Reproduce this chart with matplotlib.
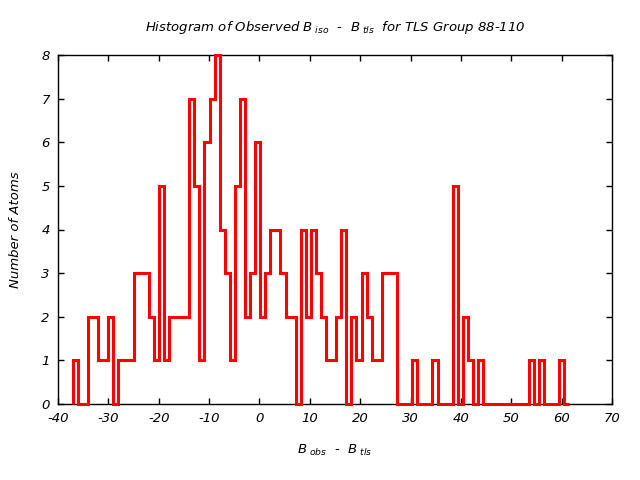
import numpy as np
import matplotlib
matplotlib.use("Agg")
import matplotlib.pyplot as plt

plt.rcParams['font.family'] = ['DejaVu Sans']
plt.rcParams['mathtext.fontset'] = 'dejavusans'
plt.rcParams['mathtext.default'] = 'it'
plt.rcParams['axes.unicode_minus'] = False

# Histogram data (bin start, bin width, counts per bin)
bin_start = -37.07
bin_width = 1.006
counts = [
    1, 0, 0, 2, 2, 1, 1, 2, 0, 1,      # -37 .. -28
    1, 1, 3, 3, 3, 2, 1, 5, 1, 2,      # -27 .. -18
    2, 2, 2, 7, 5, 1, 6, 7, 8, 4,      # -17 .. -8
    3, 1, 5, 7, 2, 3, 6, 2, 3, 4,      # -7 .. 2
    4, 3, 2, 2, 0, 4, 2, 4, 3, 2,      # 3 .. 12
    1, 1, 2, 4, 0, 2, 1, 3, 2, 1,      # 13 .. 22
    1, 3, 3, 3, 0, 0, 0, 1, 0, 0,      # 23 .. 32
    0, 1, 0, 0, 0, 5, 0, 2, 1, 0,      # 33 .. 42
    1, 0, 0, 0, 0, 0, 0, 0, 0, 0,      # 43 .. 52
    1, 0, 1, 0, 0, 0, 1, 0,            # 53 .. 60
]
x_ticks = [-40, -30, -20, -10, 0, 10, 20, 30, 40, 50, 60, 70]
y_ticks = [0, 1, 2, 3, 4, 5, 6, 7, 8]

edges = bin_start + bin_width * np.arange(len(counts) + 1)

fig = plt.figure(figsize=(6.4, 4.8), dpi=100)
ax = fig.add_axes([58/640, 76/480, 554/640, 349/480])

ax.stairs(counts, edges, baseline=0, color='#ff0000', linewidth=2.2,
          clip_on=False, zorder=3)

ax.set_xlim(-40, 70)
ax.set_ylim(0, 8)
ax.set_xticks(x_ticks)
ax.set_xticklabels([str(v) for v in x_ticks], fontstyle='italic', fontsize=9.5)
ax.set_yticks(y_ticks)
ax.set_yticklabels([str(v) for v in y_ticks], fontstyle='italic', fontsize=9.5)
ax.tick_params(direction='in', length=4, width=1, top=True, right=True, pad=6)
for s in ax.spines.values():
    s.set_linewidth(1)

ax.set_title(r"Histogram of Observed $B_{\ iso}$  -  $B_{\ tls}$  for TLS Group 88-110",
             fontsize=9.5, fontstyle='italic', pad=17)
ax.set_xlabel(r"$B_{\ obs}$  -  $B_{\ tls}$", fontsize=9.5, labelpad=13)
ax.set_ylabel("Number of Atoms", fontsize=9.5, fontstyle='italic', labelpad=14)

fig.savefig("out.png", dpi=100)
